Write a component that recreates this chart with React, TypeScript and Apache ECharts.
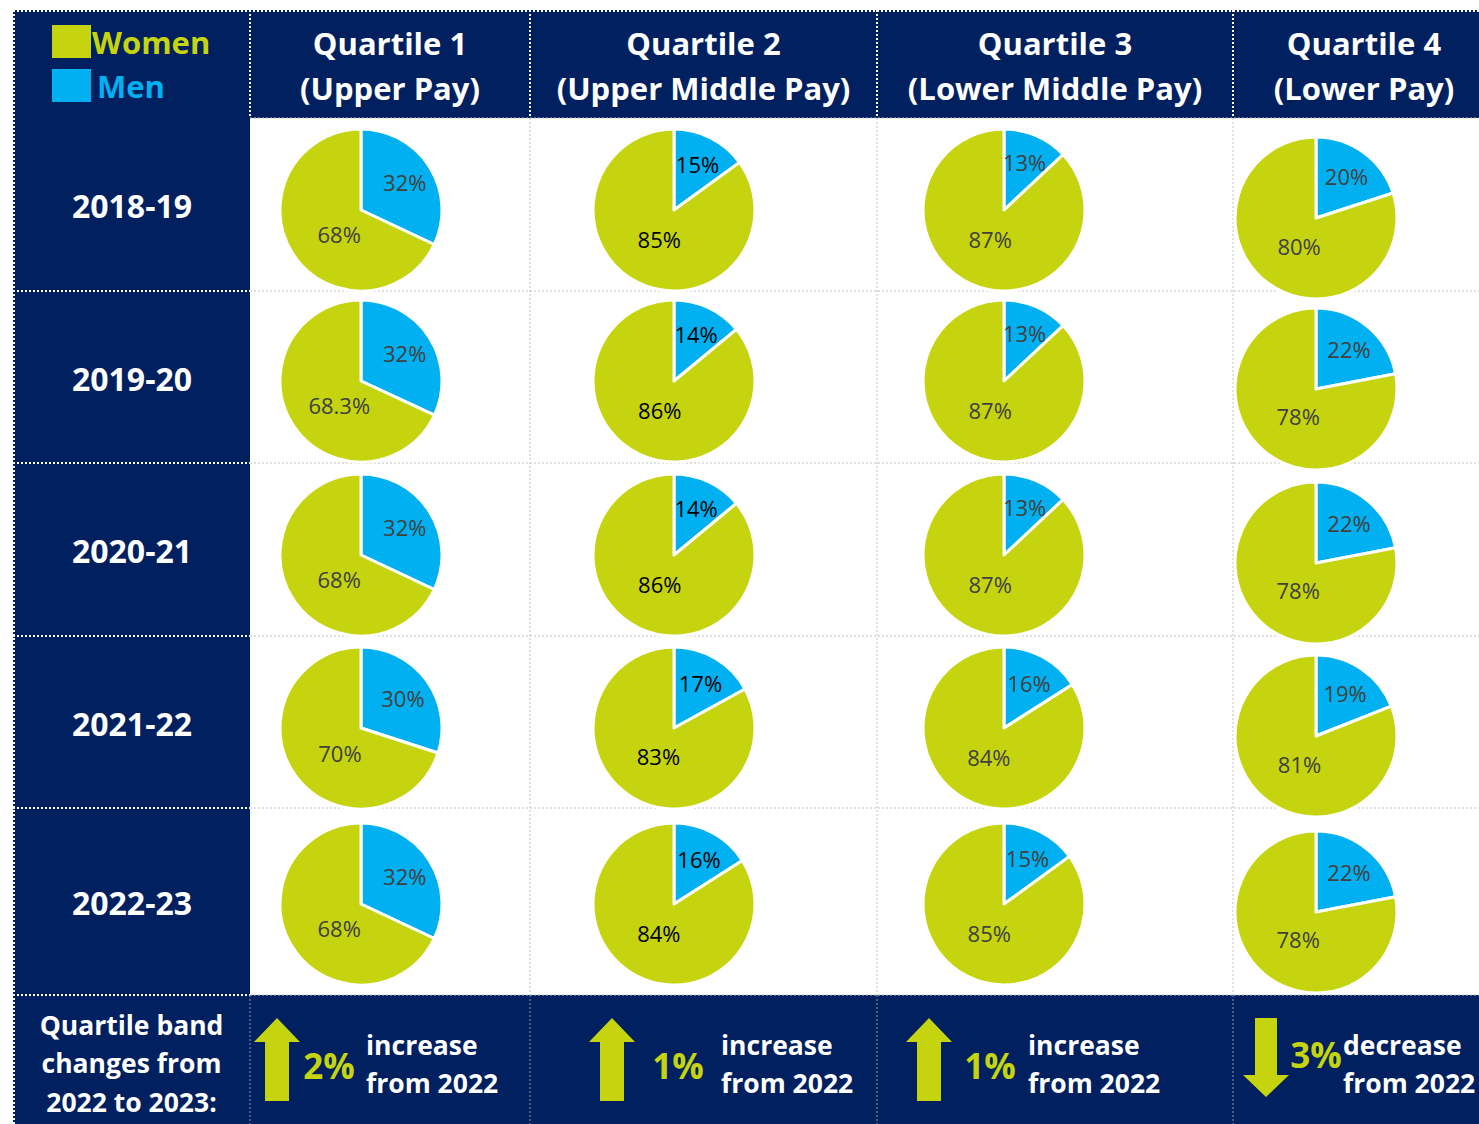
import React, { useEffect, useRef } from 'react';
import * as echarts from 'echarts';

// ---------- data ----------
const years = ['2018-19', '2019-20', '2020-21', '2021-22', '2022-23'];
const quartileTitles = ['Quartile 1', 'Quartile 2', 'Quartile 3', 'Quartile 4'];
const payBands = ['(Upper Pay)', '(Upper Middle Pay)', '(Lower Middle Pay)', '(Lower Pay)'];

const menQ1 = [32, 32, 32, 30, 32];
const womenQ1 = [68, 68.3, 68, 70, 68];
const menQ2 = [15, 14, 14, 17, 16];
const womenQ2 = [85, 86, 86, 83, 84];
const menQ3 = [13, 13, 13, 16, 15];
const womenQ3 = [87, 87, 87, 84, 85];
const menQ4 = [20, 22, 22, 19, 22];
const womenQ4 = [80, 78, 78, 81, 78];

const changeFrom2022 = [2, 1, 1, -3];

const legendNames = ['Women', 'Men'];
const footerLabel = 'Quartile band\nchanges from\n2022 to 2023:';

// ---------- style / layout ----------
const NAVY = '#002060';
const YELLOW = '#C5D40E';
const BLUE = '#00B0F0';
const FONT = 'Open Sans';

const LEFT = 13;
const TOP = 10;
const COLS = [250, 530, 877, 1233, 1495];
const ROWS = [118, 291, 463, 636, 808, 995];
const BOTTOM = 1124;
const W = 1479;

const PIE_X = [361, 674, 1004, 1316];
const PIE_Y = [210, 381, 555, 728, 904];
const PIE_R = 81;

const FOOT_ARROW_X = [277, 612, 929, 1266];
const FOOT_PCT_X = [329, 678, 990, 1316];
const FOOT_WORD_X = [366, 721, 1028, 1343];

export default function App() {
  const ref = useRef<HTMLDivElement>(null);

  useEffect(() => {
    if (!ref.current) return;
    const chart = echarts.init(ref.current, undefined, { renderer: 'svg' });

    const men = [menQ1, menQ2, menQ3, menQ4];
    const women = [womenQ1, womenQ2, womenQ3, womenQ4];

    const series: any[] = [];
    for (let q = 0; q < 4; q++) {
      for (let r = 0; r < years.length; r++) {
        const cx = PIE_X[q];
        const cy = PIE_Y[r] + (q === 3 ? 8 : 0);
        const m = men[q][r];
        const w = women[q][r];
        const total = m + w;
        const labelColor = q === 1 ? '#000000' : '#404040';
        series.push({
          type: 'pie',
          center: [cx, cy],
          radius: PIE_R,
          startAngle: 90,
          clockwise: true,
          silent: true,
          avoidLabelOverlap: false,
          z: 2,
          data: [
            { name: 'Men', value: m, itemStyle: { color: BLUE } },
            { name: 'Women', value: w, itemStyle: { color: YELLOW } },
          ],
          itemStyle: { borderColor: '#ffffff', borderWidth: 3 },
          label: {
            show: true,
            position: 'inside',
            formatter: (p: any) => `${p.value}%`,
            color: labelColor,
            fontFamily: FONT,
            fontSize: 22,
          },
          labelLine: { show: false },
          labelLayout: (p: any) => {
            let a: number;
            let d: number;
            if (p.dataIndex === 0) {
              a = (m / total) * Math.PI;
              d = PIE_R * 0.64;
            } else {
              const mid = ((m + w / 2) / total) * 2 * Math.PI;
              a = (mid + Math.PI * 1.15) / 2;
              d = PIE_R * 0.4;
            }
            return { x: cx + d * Math.sin(a), y: cy - d * Math.cos(a) };
          },
          emphasis: { disabled: true },
        });
      }
    }

    const els: any[] = [];
    const whiteDot = { stroke: '#ffffff', lineWidth: 2, lineDash: [2, 2] };
    const greyDot = { stroke: '#c0c0c0', lineWidth: 1, lineDash: [2, 2] };
    const line = (x1: number, y1: number, x2: number, y2: number, style: any) =>
      els.push({ type: 'line', z: 1, silent: true, shape: { x1, y1, x2, y2 }, style });

    // backgrounds
    els.push({ type: 'rect', z: 0, silent: true, shape: { x: LEFT, y: TOP, width: W - LEFT, height: ROWS[0] - TOP }, style: { fill: NAVY } });
    els.push({ type: 'rect', z: 0, silent: true, shape: { x: LEFT, y: ROWS[0], width: COLS[0] - LEFT, height: ROWS[5] - ROWS[0] }, style: { fill: NAVY } });
    els.push({ type: 'rect', z: 0, silent: true, shape: { x: LEFT, y: ROWS[5], width: W - LEFT, height: BOTTOM - ROWS[5] }, style: { fill: NAVY } });

    // borders / grid lines
    line(LEFT, TOP + 1, W, TOP + 1, whiteDot);
    line(LEFT + 1, TOP, LEFT + 1, BOTTOM, whiteDot);
    for (let i = 0; i < 4; i++) line(COLS[i], TOP, COLS[i], ROWS[0], whiteDot);
    for (let i = 1; i < ROWS.length; i++) line(LEFT, ROWS[i], COLS[0], ROWS[i], whiteDot);
    line(COLS[0], ROWS[0], W, ROWS[0], greyDot);
    for (let i = 1; i < ROWS.length; i++) line(COLS[0], ROWS[i], W, ROWS[i], greyDot);
    for (let i = 1; i < 4; i++) line(COLS[i], ROWS[0], COLS[i], ROWS[5], greyDot);
    for (let i = 0; i < 4; i++) line(COLS[i], ROWS[5], COLS[i], BOTTOM, { ...greyDot, stroke: '#8a93ad' });

    // header texts
    for (let q = 0; q < 4; q++) {
      els.push({
        type: 'text', z: 5, silent: true,
        x: (COLS[q] + COLS[q + 1]) / 2, y: 65,
        style: {
          text: `${quartileTitles[q]}\n${payBands[q]}`,
          fill: '#ffffff', fontFamily: FONT, fontSize: 31, fontWeight: 'bold',
          lineHeight: 45, align: 'center', verticalAlign: 'middle',
        },
      });
    }

    // row labels
    for (let r = 0; r < years.length; r++) {
      els.push({
        type: 'text', z: 5, silent: true,
        x: (LEFT + COLS[0]) / 2 + 0.5, y: (ROWS[r] + ROWS[r + 1]) / 2 + 1,
        style: {
          text: years[r], fill: '#ffffff', fontFamily: FONT, fontSize: 32, fontWeight: 'bold',
          align: 'center', verticalAlign: 'middle',
        },
      });
    }

    // footer label
    els.push({
      type: 'text', z: 5, silent: true,
      x: (LEFT + COLS[0]) / 2, y: 1063,
      style: {
        text: footerLabel, fill: '#ffffff', fontFamily: FONT, fontSize: 26.5, fontWeight: 'bold',
        lineHeight: 38.5, align: 'center', verticalAlign: 'middle',
      },
    });

    // footer changes
    for (let q = 0; q < 4; q++) {
      const c = changeFrom2022[q];
      const ax = FOOT_ARROW_X[q];
      const up = c >= 0;
      const pts = up
        ? [[ax, 1018], [ax + 23, 1042], [ax + 12, 1042], [ax + 12, 1101], [ax - 12, 1101], [ax - 12, 1042], [ax - 23, 1042]]
        : [[ax - 11, 1018], [ax + 11, 1018], [ax + 11, 1075], [ax + 23, 1075], [ax, 1097], [ax - 23, 1075], [ax - 11, 1075]];
      els.push({ type: 'polygon', z: 5, silent: true, shape: { points: pts }, style: { fill: YELLOW } });
      els.push({
        type: 'text', z: 5, silent: true,
        x: FOOT_PCT_X[q], y: up ? 1065 : 1054,
        style: {
          text: `${Math.abs(c)}%`, fill: YELLOW, fontFamily: FONT, fontSize: 35, fontWeight: 'bold',
          align: 'center', verticalAlign: 'middle',
        },
      });
      els.push({
        type: 'text', z: 5, silent: true,
        x: FOOT_WORD_X[q], y: 1064,
        style: {
          text: `${up ? 'increase' : 'decrease'}\nfrom 2022`, fill: '#ffffff', fontFamily: FONT,
          fontSize: 26.5, fontWeight: 'bold', lineHeight: 38, align: 'left', verticalAlign: 'middle',
        },
      });
    }

    chart.setOption({
      animation: false,
      backgroundColor: '#ffffff',
      legend: {
        orient: 'vertical',
        left: 47,
        top: 20,
        itemWidth: 39,
        itemHeight: 33,
        itemGap: 11,
        icon: 'rect',
        selectedMode: false,
        itemStyle: { borderWidth: 0 },
        data: [
          { name: legendNames[0], textStyle: { color: YELLOW, padding: [0, 0, 0, -4] } },
          { name: legendNames[1], textStyle: { color: BLUE, padding: [0, 0, 0, 1] } },
        ],
        textStyle: { fontSize: 31, fontWeight: 'bold', fontFamily: FONT },
      },
      graphic: { elements: els },
      series,
    });

    return () => chart.dispose();
  }, []);

  return (
    <div
      ref={ref}
      style={{ position: 'absolute', left: 0, top: 0, width: 1479, height: 1124 }}
    />
  );
}
